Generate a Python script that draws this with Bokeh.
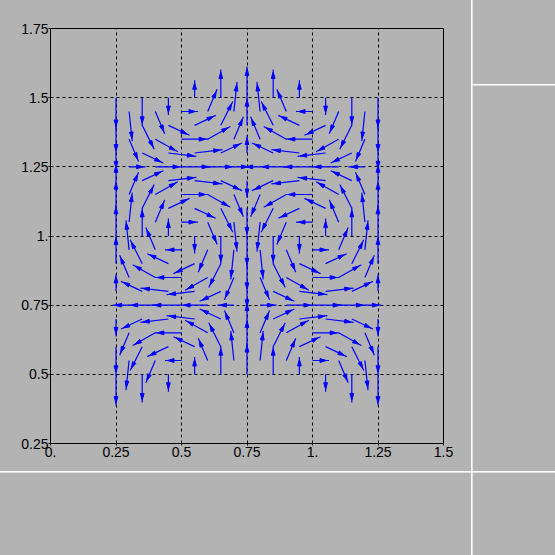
import math
from bokeh.plotting import figure
from bokeh.models import Range1d, FixedTicker, GlobalInlineStyleSheet
from bokeh.embed import file_html
from bokeh.resources import INLINE

# ---- data ----
x_even = [0.25, 0.35, 0.45, 0.55, 0.65, 0.75, 0.85, 0.95, 1.05, 1.15, 1.25]
x_odd = [0.30, 0.40, 0.50, 0.60, 0.70, 0.80, 0.90, 1.00, 1.10, 1.20]
row_y = [0.50, 0.55, 0.60, 0.65, 0.70, 0.75, 0.80, 0.85, 0.90, 0.95, 1.00,
         1.05, 1.10, 1.15, 1.20, 1.25, 1.30, 1.35, 1.40, 1.45, 1.50]

U = [
    [0, 0, 0, 0, 0, 0, 0, 0, 0, 0, 0],
    [-.10, -.25, -.31, -.25, -.10, .10, .25, .31, .25, .10],
    [0, -.35, -.56, -.56, -.35, 0, .35, .56, .56, .35, 0],
    [-.25, -.66, -.81, -.66, -.25, .25, .66, .81, .66, .25],
    [0, -.56, -.90, -.90, -.56, 0, .56, .90, .90, .56, 0],
    [-.31, -.81, -1, -.81, -.31, .31, .81, 1, .81, .31],
    [0, -.56, -.90, -.90, -.56, 0, .56, .90, .90, .56, 0],
    [-.25, -.66, -.81, -.66, -.25, .25, .66, .81, .66, .25],
    [0, -.35, -.56, -.56, -.35, 0, .35, .56, .56, .35, 0],
    [-.10, -.25, -.31, -.25, -.10, .10, .25, .31, .25, .10],
    [0, 0, 0, 0, 0, 0, 0, 0, 0, 0, 0],
    [.10, .25, .31, .25, .10, -.10, -.25, -.31, -.25, -.10],
    [0, .35, .56, .56, .35, 0, -.35, -.56, -.56, -.35, 0],
    [.25, .66, .81, .66, .25, -.25, -.66, -.81, -.66, -.25],
    [0, .56, .90, .90, .56, 0, -.56, -.90, -.90, -.56, 0],
    [.31, .81, 1, .81, .31, -.31, -.81, -1, -.81, -.31],
    [0, .56, .90, .90, .56, 0, -.56, -.90, -.90, -.56, 0],
    [.25, .66, .81, .66, .25, -.25, -.66, -.81, -.66, -.25],
    [0, .35, .56, .56, .35, 0, -.35, -.56, -.56, -.35, 0],
    [.10, .25, .31, .25, .10, -.10, -.25, -.31, -.25, -.10],
    [0, 0, 0, 0, 0, 0, 0, 0, 0, 0, 0],
]
V = [
    [-1, -.81, -.31, .31, .81, 1, .81, .31, -.31, -.81, -1],
    [-.90, -.56, 0, .56, .90, .90, .56, 0, -.56, -.90],
    [-.81, -.66, -.25, .25, .66, .81, .66, .25, -.25, -.66, -.81],
    [-.56, -.35, 0, .35, .56, .56, .35, 0, -.35, -.56],
    [-.31, -.25, -.10, .10, .25, .31, .25, .10, -.10, -.25, -.31],
    [0, 0, 0, 0, 0, 0, 0, 0, 0, 0],
    [.31, .25, .10, -.10, -.25, -.31, -.25, -.10, .10, .25, .31],
    [.56, .35, 0, -.35, -.56, -.56, -.35, 0, .35, .56],
    [.81, .66, .25, -.25, -.66, -.81, -.66, -.25, .25, .66, .81],
    [.90, .56, 0, -.56, -.90, -.90, -.56, 0, .56, .90],
    [1, .81, .31, -.31, -.81, -1, -.81, -.31, .31, .81, 1],
    [.90, .56, 0, -.56, -.90, -.90, -.56, 0, .56, .90],
    [.81, .66, .25, -.25, -.66, -.81, -.66, -.25, .25, .66, .81],
    [.56, .35, 0, -.35, -.56, -.56, -.35, 0, .35, .56],
    [.31, .25, .10, -.10, -.25, -.31, -.25, -.10, .10, .25, .31],
    [0, 0, 0, 0, 0, 0, 0, 0, 0, 0],
    [-.31, -.25, -.10, .10, .25, .31, .25, .10, -.10, -.25, -.31],
    [-.56, -.35, 0, .35, .56, .56, .35, 0, -.35, -.56],
    [-.81, -.66, -.25, .25, .66, .81, .66, .25, -.25, -.66, -.81],
    [-.90, -.56, 0, .56, .90, .90, .56, 0, -.56, -.90],
    [-1, -.81, -.31, .31, .81, 1, .81, .31, -.31, -.81, -1],
]

x_ticks = [0, 0.25, 0.5, 0.75, 1.0, 1.25, 1.5]
x_tick_labels = ["0.", "0.25", "0.5", "0.75", "1.", "1.25", "1.5"]
y_ticks = [0.25, 0.5, 0.75, 1.0, 1.25, 1.5, 1.75]
y_tick_labels = ["0.25", "0.5", "0.75", "1.", "1.25", "1.5", "1.75"]
x_grid = [0.25, 0.5, 0.75, 1.0, 1.25]
y_grid = [0.5, 0.75, 1.0, 1.25, 1.5]

# ---- style ----
GRAY = "#b3b3b3"
BLUE = "#0000ff"
FW, FH = 393, 415
X0, X1, Y0, Y1 = 0.0, 1.5, 0.25, 1.75
KX = FW / (X1 - X0)
KY = FH / (Y1 - Y0)
L0 = 0.113

page_css = (
    "html, body { background: "
    "linear-gradient(#ffffff, #ffffff) 470.6px 0px / 1.6px 100% no-repeat, "
    "linear-gradient(#ffffff, #ffffff) 0px 470.6px / 100% 1.6px no-repeat, "
    "linear-gradient(#ffffff, #ffffff) 471px 84px / 100% 1.5px no-repeat, "
    + GRAY + "; }"
)

p = figure(frame_width=FW, frame_height=FH, x_range=Range1d(X0, X1), y_range=Range1d(Y0, Y1),
           output_backend="svg", toolbar_location=None,
           min_border_left=50, min_border_top=28, min_border_right=112, min_border_bottom=112)
p.stylesheets = [GlobalInlineStyleSheet(css=page_css)]
p.background_fill_color = GRAY
p.border_fill_alpha = 0
p.outline_line_color = "black"
p.outline_line_width = 1

for ax, ticks, labels in ((p.xaxis[0], x_ticks, x_tick_labels), (p.yaxis[0], y_ticks, y_tick_labels)):
    ax.ticker = FixedTicker(ticks=ticks)
    ax.major_label_overrides = {t: l for t, l in zip(ticks, labels)}
    ax.major_tick_out = 2
    ax.major_tick_in = 0
    ax.minor_tick_out = 0
    ax.minor_tick_in = 0
    ax.major_tick_line_color = "black"
    ax.axis_line_color = "black"
    ax.major_label_text_font = "Liberation Sans"
    ax.major_label_text_font_size = "14px"
    ax.major_label_text_color = "black"
p.xaxis.major_label_standoff = 1
p.yaxis.major_label_standoff = 0

p.xgrid.ticker = FixedTicker(ticks=x_grid)
p.ygrid.ticker = FixedTicker(ticks=y_grid)
for g in (p.xgrid[0], p.ygrid[0]):
    g.grid_line_color = "black"
    g.grid_line_dash = "3 3"
    g.grid_line_width = 1
    g.grid_line_alpha = 1

# ---- arrows ----
sx0, sy0, sx1, sy1 = [], [], [], []
hx, hy = [], []
for j, y in enumerate(row_y):
    xs = x_even if j % 2 == 0 else x_odd
    for x, uu, vv in zip(xs, U[j], V[j]):
        m = math.hypot(uu, vv)
        if m == 0:
            continue
        L = L0 * math.sqrt(m)
        dx, dy = uu / m * L, vv / m * L
        sx0.append(x); sy0.append(y); sx1.append(x + dx); sy1.append(y + dy)
        px, py = dx * KX, dy * KY
        pl = math.hypot(px, py)
        ex, ey = px / pl, py / pl
        nx, ny = -ey, ex
        back = 2.5
        hl, hw = 6.5, 1.9
        tx, ty = px - back * ex, py - back * ey
        bx, by = tx - hl * ex, ty - hl * ey
        hx.append([x + tx / KX, x + (bx + hw * nx) / KX, x + (bx - hw * nx) / KX])
        hy.append([y + ty / KY, y + (by + hw * ny) / KY, y + (by - hw * ny) / KY])

p.segment(sx0, sy0, sx1, sy1, line_color=BLUE, line_width=1.2)
p.patches(hx, hy, fill_color=BLUE, line_color=BLUE, line_width=1)

open("out.html", "w").write(file_html(p, INLINE))
